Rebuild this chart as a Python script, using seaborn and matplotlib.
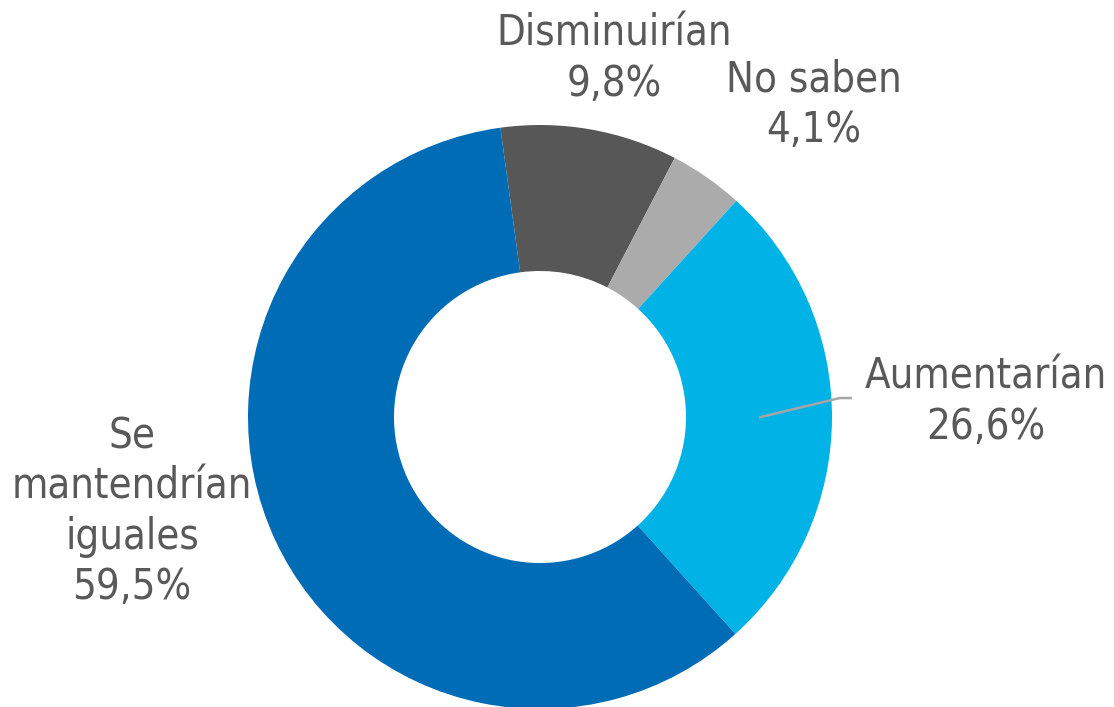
import numpy as np
import matplotlib
matplotlib.use('Agg')
import matplotlib.pyplot as plt
import seaborn as sns

# Data
categories = ['Disminuirían', 'No saben', 'Aumentarían', 'Se\nmantendrían\niguales']
shares = [9.8, 4.1, 26.6, 59.5]
share_labels = ['9,8%', '4,1%', '26,6%', '59,5%']

colors = ['#575757', '#ABABAB', '#00B2E5', '#006CB5']
text_color = '#595959'

sns.set_theme(style='white')
plt.rcParams['font.family'] = ['DejaVu Sans']

fig = plt.figure(figsize=(11.14, 7.07), dpi=100)
ax = fig.add_axes([0, 0, 1, 1])

# Donut
wedges, _ = ax.pie(shares, colors=colors, startangle=97.8, counterclock=False,
                   radius=1.0, wedgeprops=dict(width=0.5, linewidth=0))

# Axis ranges so the ring sits where it is in the reference
ax.set_xlim(-540 / 292, (1114 - 540) / 292)
ax.set_ylim(-(707 - 417) / 292, 417 / 292)
ax.set_aspect('equal')
ax.axis('off')

# Label positions (data units, relative to the ring)
label_pos = [(0.253, 1.228), (0.938, 1.070), (1.527, 0.052), (-1.397, -0.325)]

for lab, pct, (x, y) in zip(categories, share_labels, label_pos):
    ax.text(x, y, lab + '\n' + pct, ha='center', va='center', multialignment='center',
            fontsize=30, color=text_color, linespacing=1.25, fontstretch='condensed')

# Leader line for Aumentarían
w = wedges[2]
mid = np.deg2rad((w.theta1 + w.theta2) / 2)
r0 = 0.75
x0, y0 = r0 * np.cos(mid), r0 * np.sin(mid)
ax.plot([x0, 1.027, 1.068], [y0, 0.065, 0.065], color='#A6A6A6', lw=1.8,
        solid_capstyle='butt')

fig.savefig('out.png', dpi=100)
